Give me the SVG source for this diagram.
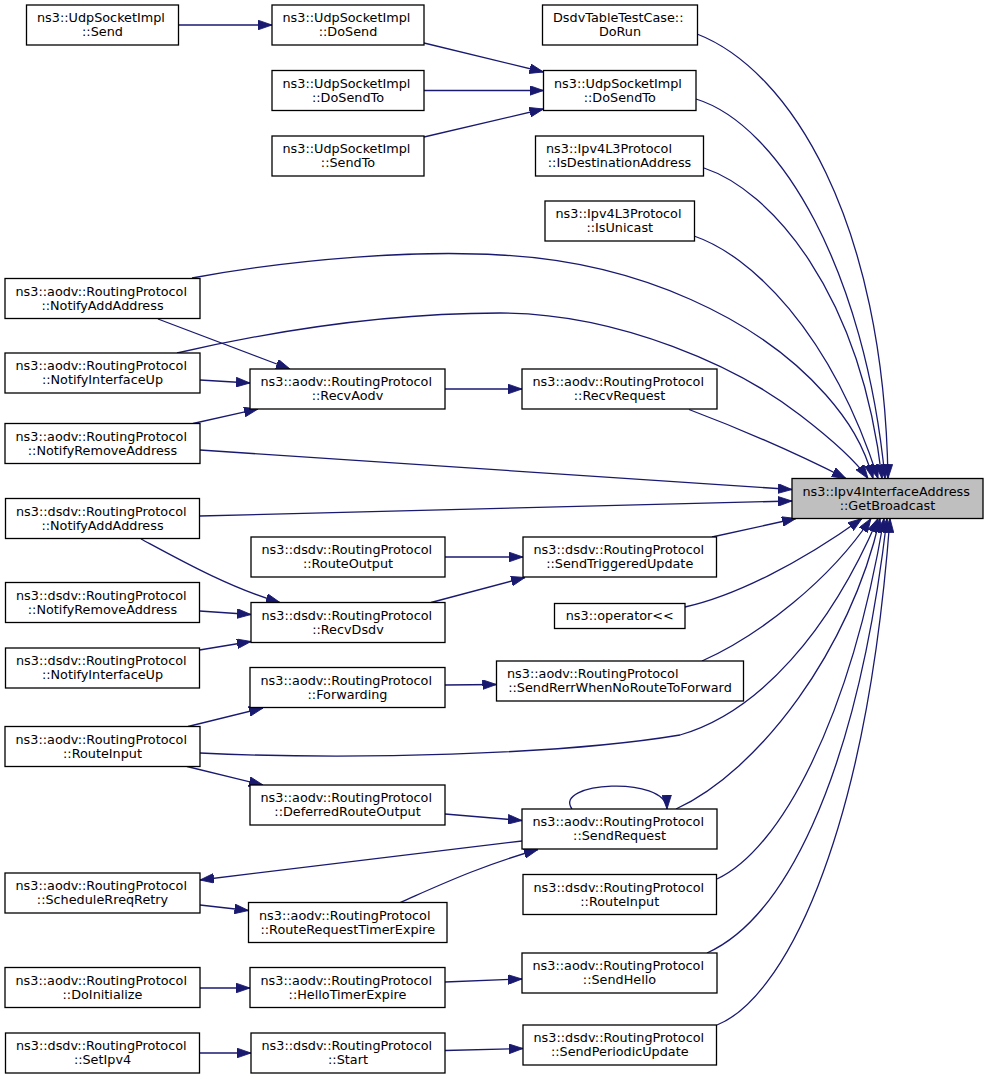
<svg xmlns="http://www.w3.org/2000/svg" width="989" height="1079" viewBox="0 0 989 1079">
<defs>
<marker id="ah" markerUnits="userSpaceOnUse" markerWidth="14" markerHeight="10" viewBox="0 0 13 9" refX="13" refY="4.5" orient="auto">
<path d="M0,0 L13,4.5 L0,9 Z" fill="#191970" stroke="#191970" stroke-width="0.8"/>
</marker>
</defs>
<style>
rect.n { fill: #ffffff; stroke: #000000; stroke-width: 1.3; }
rect.t { fill: #bfbfbf; stroke: #000000; stroke-width: 1.3; }
text { font-family: "DejaVu Sans", "Liberation Sans", sans-serif; font-size: 12.8px; fill: #000000; }
.m { text-anchor: middle; }
#edges path { fill: none; stroke: #191970; stroke-width: 1.3; marker-end: url(#ah); }
</style>
<rect width="989" height="1079" fill="#ffffff"/>
<g id="edges">
<path d="M179,25 L272,25"/>
<path d="M424,43 L543.5,72"/>
<path d="M424,90.5 L543.5,90.5"/>
<path d="M424,137 L543.5,109"/>
<path d="M697,34 C790,70 884,220 888,478.5"/>
<path d="M696,99 C780,125 865,270 885,478.5"/>
<path d="M704,168 C770,190 860,290 882,478.5"/>
<path d="M694,236 C750,255 830,330 878,478.5"/>
<path d="M192,278 C300,258 420,250 500,255 C640,262 760,320 826,395 C848,420 864,445 873,478.5"/>
<path d="M158,319 L290,369"/>
<path d="M177,353 C260,334 380,313 500,313 C620,313 740,368 800,415 C830,438 855,460 868,478.5"/>
<path d="M200,380 L250,383"/>
<path d="M193,423.5 L258,409"/>
<path d="M200,450 L792,489.5"/>
<path d="M445,389 L522,389"/>
<path d="M689,409.5 C730,425 790,450 846,478.5"/>
<path d="M199.5,516 L792,501"/>
<path d="M141,539 C180,560 230,588 280,602.5"/>
<path d="M445,557 L523,557"/>
<path d="M431,602.5 L525,577.5"/>
<path d="M712,537 L796,518.5"/>
<path d="M199.5,611 L251,614.5"/>
<path d="M199.5,650 L251,641.5"/>
<path d="M685,607 C735,596 800,563 862,518.5"/>
<path d="M445,685 L496.5,684.5"/>
<path d="M702,661 C760,635 830,580 871,518.5"/>
<path d="M188,726.5 L263,708"/>
<path d="M200,753 C350,760 560,755 680,735 C760,712 830,630 878,518.5"/>
<path d="M187,766.5 L263,785"/>
<path d="M445,814 L522,820.5"/>
<path d="M572,809 C552,782 666,775 667,809"/>
<path d="M676,809 C760,770 850,650 880,518.5"/>
<path d="M522,841 L200,880"/>
<path d="M200,905 L248.5,910.5"/>
<path d="M400,902.5 C440,885 480,866 538,849.5"/>
<path d="M717,879 C780,850 850,720 884,518.5"/>
<path d="M200,988 L250,988"/>
<path d="M445,982 L522,979"/>
<path d="M707,953 C780,920 855,790 887,518.5"/>
<path d="M199.5,1053 L251,1053"/>
<path d="M445,1050.5 L523,1048.5"/>
<path d="M717,1025 C780,1000 865,850 890,518.5"/>
</g>
<g id="n1"><rect class="n" x="26.5" y="5" width="152" height="40"/><text x="37" y="22">ns3::UdpSocketImpl</text><text class="m" x="102.5" y="36">::Send</text></g>
<g id="n2"><rect class="n" x="272" y="5" width="152" height="40"/><text x="282.5" y="22">ns3::UdpSocketImpl</text><text class="m" x="348" y="36">::DoSend</text></g>
<g id="n3"><rect class="n" x="272" y="70.5" width="152" height="40"/><text x="282.5" y="87.5">ns3::UdpSocketImpl</text><text class="m" x="348" y="101.5">::DoSendTo</text></g>
<g id="n4"><rect class="n" x="272" y="136" width="152" height="40"/><text x="282.5" y="153">ns3::UdpSocketImpl</text><text class="m" x="348" y="167">::SendTo</text></g>
<g id="n5"><rect class="n" x="542.5" y="5" width="155" height="40"/><text x="553" y="22">DsdvTableTestCase::</text><text class="m" x="620" y="36">DoRun</text></g>
<g id="n6"><rect class="n" x="543.5" y="70.5" width="152.5" height="40"/><text x="554" y="87.5">ns3::UdpSocketImpl</text><text class="m" x="619.75" y="101.5">::DoSendTo</text></g>
<g id="n7"><rect class="n" x="535.5" y="136" width="168" height="40"/><text x="546" y="153">ns3::Ipv4L3Protocol</text><text class="m" x="619.5" y="167">::IsDestinationAddress</text></g>
<g id="n8"><rect class="n" x="545" y="201" width="149.5" height="40"/><text x="555.5" y="218">ns3::Ipv4L3Protocol</text><text class="m" x="619.75" y="232">::IsUnicast</text></g>
<g id="n9"><rect class="n" x="5" y="278.5" width="195" height="40"/><text x="15.5" y="295.5">ns3::aodv::RoutingProtocol</text><text class="m" x="102.5" y="309.5">::NotifyAddAddress</text></g>
<g id="n10"><rect class="n" x="5" y="353" width="195" height="40"/><text x="15.5" y="370">ns3::aodv::RoutingProtocol</text><text class="m" x="102.5" y="384">::NotifyInterfaceUp</text></g>
<g id="n11"><rect class="n" x="250" y="369" width="195" height="40"/><text x="260.5" y="386">ns3::aodv::RoutingProtocol</text><text class="m" x="347.5" y="400">::RecvAodv</text></g>
<g id="n12"><rect class="n" x="5" y="423.5" width="195" height="40"/><text x="15.5" y="440.5">ns3::aodv::RoutingProtocol</text><text class="m" x="102.5" y="454.5">::NotifyRemoveAddress</text></g>
<g id="n13"><rect class="n" x="522" y="369" width="195" height="40"/><text x="532.5" y="386">ns3::aodv::RoutingProtocol</text><text class="m" x="619.5" y="400">::RecvRequest</text></g>
<g id="n14"><rect class="t" x="792" y="478.5" width="191" height="40"/><text x="802.5" y="495.5">ns3::Ipv4InterfaceAddress</text><text class="m" x="887.5" y="509.5">::GetBroadcast</text></g>
<g id="n15"><rect class="n" x="5.5" y="498.5" width="194" height="40"/><text x="16" y="515.5">ns3::dsdv::RoutingProtocol</text><text class="m" x="102.5" y="529.5">::NotifyAddAddress</text></g>
<g id="n16"><rect class="n" x="251" y="537" width="194" height="40"/><text x="261.5" y="554">ns3::dsdv::RoutingProtocol</text><text class="m" x="348" y="568">::RouteOutput</text></g>
<g id="n17"><rect class="n" x="523" y="537" width="193.5" height="40"/><text x="533.5" y="554">ns3::dsdv::RoutingProtocol</text><text class="m" x="619.75" y="568">::SendTriggeredUpdate</text></g>
<g id="n18"><rect class="n" x="5.5" y="582.5" width="194" height="40"/><text x="16" y="599.5">ns3::dsdv::RoutingProtocol</text><text class="m" x="102.5" y="613.5">::NotifyRemoveAddress</text></g>
<g id="n19"><rect class="n" x="251" y="602.5" width="194" height="40"/><text x="261.5" y="619.5">ns3::dsdv::RoutingProtocol</text><text class="m" x="348" y="633.5">::RecvDsdv</text></g>
<g id="n20"><rect class="n" x="554.5" y="603.5" width="130.5" height="25"/><text class="m" x="619.75" y="620">ns3::operator&lt;&lt;</text></g>
<g id="n21"><rect class="n" x="5.5" y="648" width="194" height="40"/><text x="16" y="665">ns3::dsdv::RoutingProtocol</text><text class="m" x="102.5" y="679">::NotifyInterfaceUp</text></g>
<g id="n22"><rect class="n" x="250" y="667.5" width="195" height="40"/><text x="260.5" y="684.5">ns3::aodv::RoutingProtocol</text><text class="m" x="347.5" y="698.5">::Forwarding</text></g>
<g id="n23"><rect class="n" x="496.5" y="661" width="247" height="40"/><text x="507" y="678">ns3::aodv::RoutingProtocol</text><text class="m" x="620" y="692">::SendRerrWhenNoRouteToForward</text></g>
<g id="n24"><rect class="n" x="5" y="726.5" width="195" height="40"/><text x="15.5" y="743.5">ns3::aodv::RoutingProtocol</text><text class="m" x="102.5" y="757.5">::RouteInput</text></g>
<g id="n25"><rect class="n" x="250" y="785" width="195" height="40"/><text x="260.5" y="802">ns3::aodv::RoutingProtocol</text><text class="m" x="347.5" y="816">::DeferredRouteOutput</text></g>
<g id="n26"><rect class="n" x="522" y="809" width="195" height="40"/><text x="532.5" y="826">ns3::aodv::RoutingProtocol</text><text class="m" x="619.5" y="840">::SendRequest</text></g>
<g id="n27"><rect class="n" x="5" y="873" width="195" height="40"/><text x="15.5" y="890">ns3::aodv::RoutingProtocol</text><text class="m" x="102.5" y="904">::ScheduleRreqRetry</text></g>
<g id="n28"><rect class="n" x="523" y="874.5" width="193.5" height="40"/><text x="533.5" y="891.5">ns3::dsdv::RoutingProtocol</text><text class="m" x="619.75" y="905.5">::RouteInput</text></g>
<g id="n29"><rect class="n" x="248.5" y="902.5" width="198.5" height="40"/><text x="259" y="919.5">ns3::aodv::RoutingProtocol</text><text class="m" x="347.75" y="933.5">::RouteRequestTimerExpire</text></g>
<g id="n30"><rect class="n" x="522" y="953" width="195" height="40"/><text x="532.5" y="970">ns3::aodv::RoutingProtocol</text><text class="m" x="619.5" y="984">::SendHello</text></g>
<g id="n31"><rect class="n" x="5" y="967.5" width="195" height="40"/><text x="15.5" y="984.5">ns3::aodv::RoutingProtocol</text><text class="m" x="102.5" y="998.5">::DoInitialize</text></g>
<g id="n32"><rect class="n" x="250" y="967.5" width="195" height="40"/><text x="260.5" y="984.5">ns3::aodv::RoutingProtocol</text><text class="m" x="347.5" y="998.5">::HelloTimerExpire</text></g>
<g id="n33"><rect class="n" x="523" y="1025" width="193.5" height="40"/><text x="533.5" y="1042">ns3::dsdv::RoutingProtocol</text><text class="m" x="619.75" y="1056">::SendPeriodicUpdate</text></g>
<g id="n34"><rect class="n" x="5.5" y="1033" width="194" height="40"/><text x="16" y="1050">ns3::dsdv::RoutingProtocol</text><text class="m" x="102.5" y="1064">::SetIpv4</text></g>
<g id="n35"><rect class="n" x="251" y="1033" width="194" height="40"/><text x="261.5" y="1050">ns3::dsdv::RoutingProtocol</text><text class="m" x="348" y="1064">::Start</text></g>
</svg>
